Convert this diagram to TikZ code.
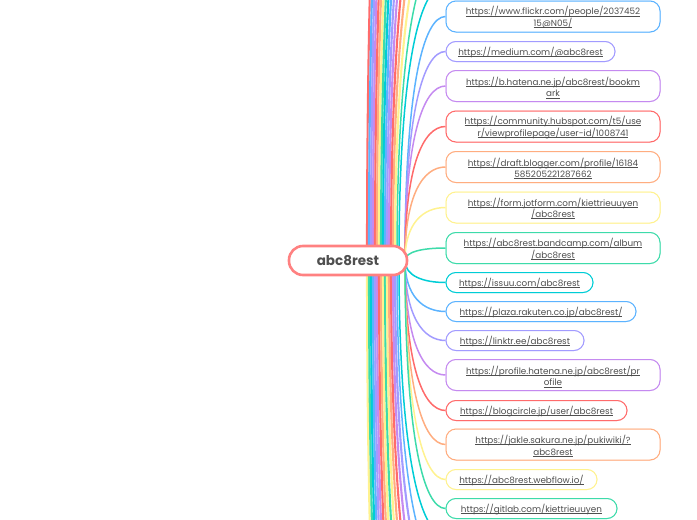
\documentclass[tikz,border=0pt]{standalone}
\usepackage{fontspec}
\usepackage{tikz}
\usepackage{xcolor}
\setmainfont{Poppins}
\definecolor{cred}{HTML}{FF6B6B}
\definecolor{corange}{HTML}{FFAD80}
\definecolor{cyellow}{HTML}{FFF28F}
\definecolor{cgreen}{HTML}{3DDBAA}
\definecolor{ccyan}{HTML}{00CDD6}
\definecolor{cblue}{HTML}{5CB3FF}
\definecolor{cpurple}{HTML}{A29BFF}
\definecolor{cviolet}{HTML}{C58AF0}
\definecolor{ctext}{HTML}{4F4F4F}
\newsavebox{\lnkbox}
\newcommand{\lnk}[1]{\sbox{\lnkbox}{#1}\raisebox{-0.9pt}[\ht\lnkbox][\dp\lnkbox]{\usebox{\lnkbox}\llap{\rule[-1.3pt]{\wd\lnkbox}{0.55pt}}}}
\tikzset{
	linkbox/.style={rounded corners=10pt,fill=white,draw=#1,line width=1pt,anchor=west,
		preaction={draw=#1!55,line width=1pt,yshift=-0.8pt},
		minimum height=20pt,text=ctext,font=\fontsize{8.8}{11.5}\selectfont,inner sep=0pt},
	widebox/.style={linkbox=#1,minimum width=214pt,minimum height=31pt,align=center},
	branch/.style={line width=1.5pt,draw=#1},
	farbranch/.style={line width=2.1pt,draw=#1}
}
\pgfdeclarelayer{branches}
\pgfsetlayers{branches,main}
\begin{document}
\begin{tikzpicture}[x=1pt,y=-1pt]
	\useasboundingbox (0,0) rectangle (697,520);
	\node[rounded corners=14pt,draw=cred!85,fill=white,line width=2.6pt,minimum width=118pt,minimum height=29pt,text=ctext,font=\fontsize{13.5}{16}\selectfont\bfseries] (root) at (348,260.5) {abc8rest};
	% links
	\node[widebox=cblue] (flickr) at (445.5,16.5) {\lnk{https://www.flickr.com/people/2037452}\\\lnk{15@N05/}};
	\node[linkbox=cpurple,minimum width=169pt] (medium) at (445.5,51.5) {\lnk{https://medium.com/@abc8rest}};
	\node[widebox=cviolet] (hatena) at (445.5,86) {\lnk{https://b.hatena.ne.jp/abc8rest/bookm}\\\lnk{ark}};
	\node[widebox=cred] (hubspot) at (445.5,126.5) {\lnk{https://community.hubspot.com/t5/use}\\\lnk{r/viewprofilepage/user-id/1008741}};
	\node[widebox=corange] (blogger) at (445.5,167) {\lnk{https://draft.blogger.com/profile/16184}\\\lnk{585205221287662}};
	\node[widebox=cyellow] (jotform) at (445.5,207.5) {\lnk{https://form.jotform.com/kiettrieuuyen}\\\lnk{/abc8rest}};
	\node[widebox=cgreen] (bandcamp) at (445.5,248) {\lnk{https://abc8rest.bandcamp.com/album}\\\lnk{/abc8rest}};
	\node[linkbox=ccyan,minimum width=147pt] (issuu) at (445.5,282.5) {\lnk{https://issuu.com/abc8rest}};
	\node[linkbox=cblue,minimum width=190pt] (plaza) at (445.5,311.5) {\lnk{https://plaza.rakuten.co.jp/abc8rest/}};
	\node[linkbox=cpurple,minimum width=138pt] (linktr) at (445.5,340.5) {\lnk{https://linktr.ee/abc8rest}};
	\node[widebox=cviolet] (profile) at (445.5,375) {\lnk{https://profile.hatena.ne.jp/abc8rest/pr}\\\lnk{ofile}};
	\node[linkbox=cred,minimum width=181pt] (blogcircle) at (445.5,410.5) {\lnk{https://blogcircle.jp/user/abc8rest}};
	\node[widebox=corange] (jakle) at (445.5,444.5) {\lnk{https://jakle.sakura.ne.jp/pukiwiki/?}\\\lnk{abc8rest}};
	\node[linkbox=cyellow,minimum width=151pt] (webflow) at (445.5,479.5) {\lnk{https://abc8rest.webflow.io/}};
	\node[linkbox=cgreen,minimum width=171pt] (gitlab) at (445.5,508.5) {\lnk{https://gitlab.com/kiettrieuuyen}};
	% links outside the page
	\foreach \k in {1,...,17}{
		\coordinate (up\k) at (445,-15-35*\k+35);
		\coordinate (down\k) at (445,535+35*\k-35);
	}
	\begin{pgfonlayer}{branches}
		\foreach \n/\c/\sx/\ty in {
			up17/cred/367/-575,up16/cblue/369/-540,up15/cpurple/371/-505,up14/cviolet/373/-470,up13/cred/375/-435,
			up12/corange/377/-400,up11/cyellow/379/-365,up10/cgreen/381/-330,up9/ccyan/383/-295,
			up8/cblue/385/-260,up7/cpurple/387/-225,up6/cviolet/389/-190,up5/cred/391/-155,
			up4/corange/393/-120,up3/cyellow/395/-85,
			down17/cyellow/367/1095,down16/cgreen/369/1060,down15/ccyan/371/1025,down14/cblue/373/990,down13/cpurple/375/955,
			down12/cviolet/377/920,down11/cred/379/885,down10/corange/381/850,down9/cyellow/383/815,
			down8/cgreen/385/780,down7/cyellow/387/745,down6/corange/389/710,down5/cred/391/675,
			down4/cviolet/393/640,down3/cpurple/395/605}
			\draw[farbranch=\c] ([xshift={(\sx-348)*1pt}]root.center) .. controls (\sx,{260+0.7*(\ty-260)}) and ({\sx+0.45*(445-\sx)},\ty) .. (\n);
		\foreach \n/\c/\sx/\ty in {
			up2/cgreen/397/-50,up1/ccyan/399/-15,down2/cblue/397/570,down1/ccyan/399/535,
			flickr/cblue/405/16.5,medium/cpurple/405/51.5,hatena/cviolet/405/86,hubspot/cred/405/126.5,
			blogger/corange/405/167,jotform/cyellow/405/207.5,bandcamp/cgreen/405/248,issuu/ccyan/405/282.5,
			plaza/cblue/405/311.5,linktr/cpurple/405/340.5,profile/cviolet/405/375,blogcircle/cred/405/410.5,
			jakle/corange/405/444.5,webflow/cyellow/405/479.5,gitlab/cgreen/405/508.5}
			\draw[branch=\c] ([xshift={(\sx-348)*1pt}]root.center) .. controls (\sx,{260+0.7*(\ty-260)}) and ({\sx+0.45*(445-\sx)},\ty) .. (\n);
	\end{pgfonlayer}
\end{tikzpicture}
\end{document}
